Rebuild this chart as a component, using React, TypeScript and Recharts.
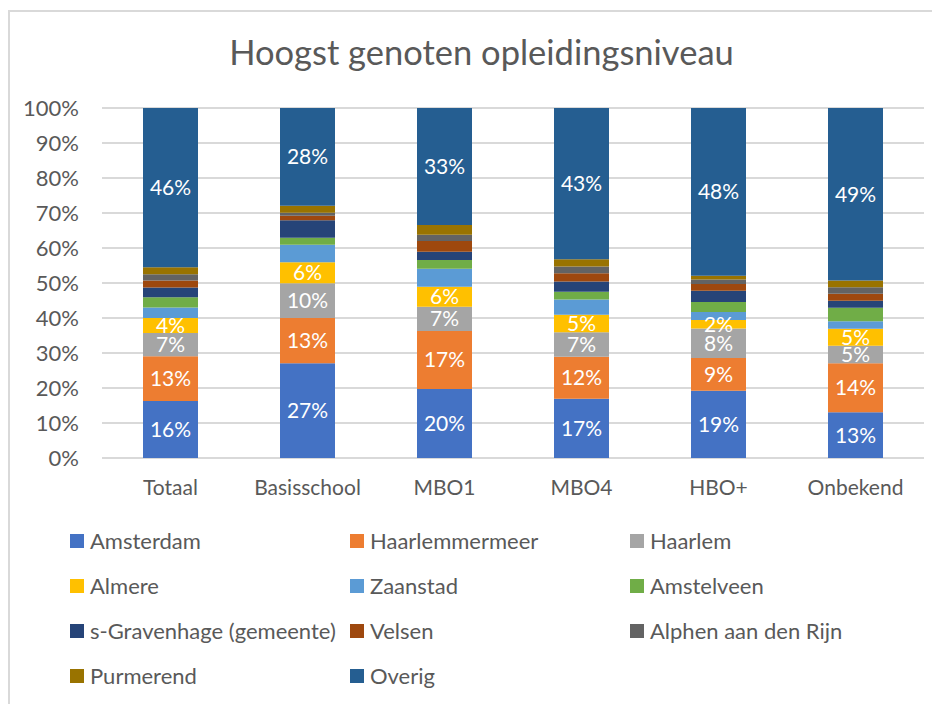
import { BarChart, Bar, XAxis, YAxis, CartesianGrid, LabelList, Legend } from 'recharts'

const categories = ['Totaal', 'Basisschool', 'MBO1', 'MBO4', 'HBO+', 'Onbekend']

const amsterdam = [16.3, 27.1, 19.7, 16.9, 19.2, 13.1]
const haarlemmermeer = [12.8, 12.9, 16.6, 12.0, 9.4, 14.0]
const haarlem = [6.6, 9.9, 6.9, 7.0, 8.4, 5.0]
const almere = [4.3, 6.0, 5.7, 5.0, 2.4, 4.8]
const zaanstad = [3.0, 5.0, 5.2, 4.4, 2.3, 2.2]
const amstelveen = [2.9, 2.0, 2.5, 2.2, 2.9, 3.8]
const sGravenhage = [2.8, 5.0, 2.3, 2.9, 3.2, 2.0]
const velsen = [2.0, 1.3, 3.1, 2.4, 1.9, 2.0]
const alphen = [1.8, 0.9, 1.8, 1.9, 1.3, 1.9]
const purmerend = [2.0, 2.0, 2.8, 2.1, 1.1, 1.9]
const overig = [45.5, 27.9, 33.4, 43.2, 47.9, 49.3]

const yTicks = [0, 10, 20, 30, 40, 50, 60, 70, 80, 90, 100]

const series = [
  { name: 'Amsterdam', values: amsterdam, color: '#4472C4', labels: true },
  { name: 'Haarlemmermeer', values: haarlemmermeer, color: '#ED7D31', labels: true },
  { name: 'Haarlem', values: haarlem, color: '#A5A5A5', labels: true },
  { name: 'Almere', values: almere, color: '#FFC000', labels: true },
  { name: 'Zaanstad', values: zaanstad, color: '#5B9BD5', labels: false },
  { name: 'Amstelveen', values: amstelveen, color: '#70AD47', labels: false },
  { name: 's-Gravenhage (gemeente)', values: sGravenhage, color: '#264478', labels: false },
  { name: 'Velsen', values: velsen, color: '#9E480E', labels: false },
  { name: 'Alphen aan den Rijn', values: alphen, color: '#636363', labels: false },
  { name: 'Purmerend', values: purmerend, color: '#997300', labels: false },
  { name: 'Overig', values: overig, color: '#255E91', labels: true },
]

const data = categories.map((category, i) => {
  const row: Record<string, string | number> = { category }
  series.forEach((s) => {
    row[s.name] = s.values[i]
  })
  return row
})

const TEXT = '#595959'
const FONT = 'Lato, "Open Sans", sans-serif'

function LegendGrid() {
  return (
    <div
      style={{
        display: 'grid',
        gridTemplateColumns: '280px 280px 280px',
        gridAutoRows: '45px',
        paddingLeft: 60,
        fontFamily: FONT,
        fontSize: 22,
        color: TEXT,
      }}
    >
      {series.map((s) => (
        <div key={s.name} style={{ display: 'flex', alignItems: 'center', whiteSpace: 'nowrap' }}>
          <span style={{ width: 14, height: 14, background: s.color, marginRight: 6, flex: 'none' }} />
          {s.name}
        </div>
      ))}
    </div>
  )
}

export default function App() {
  return (
    <div style={{ position: 'relative', width: 932, height: 696, fontFamily: FONT }}>
      <div
        style={{
          position: 'absolute',
          left: 0,
          top: 2,
          width: 932,
          height: 694,
          borderLeft: '2px solid #d9d9d9',
          borderTop: '2px solid #d9d9d9',
          boxSizing: 'border-box',
        }}
      />
      <div
        style={{
          position: 'absolute',
          left: 0,
          top: 23,
          width: 947,
          textAlign: 'center',
          fontSize: 34.5,
          lineHeight: 1.2,
          color: TEXT,
          whiteSpace: 'nowrap',
        }}
      >
        Hoogst genoten opleidingsniveau
      </div>
      <div style={{ position: 'absolute', left: 2, top: 4 }}>
        <BarChart
          width={930}
          height={692}
          data={data}
          margin={{ top: 96, right: 16, bottom: 216, left: 0 }}
          barSize={55}
        >
          <CartesianGrid vertical={false} stroke="#d9d9d9" strokeWidth={2} />
          <XAxis
            dataKey="category"
            height={30}
            axisLine={false}
            tickLine={false}
            tickSize={0}
            tickMargin={22}
            tick={{ fontSize: 21, fill: TEXT, fontFamily: FONT }}
          />
          <YAxis
            domain={[0, 100]}
            ticks={yTicks}
            width={92}
            axisLine={false}
            tickLine={false}
            tickSize={0}
            tickMargin={23}
            tickFormatter={(v: number) => `${v}%`}
            tick={{ fontSize: 22, fill: TEXT, fontFamily: FONT }}
          />
          {series.map((s) => (
            <Bar key={s.name} dataKey={s.name} stackId="a" fill={s.color} isAnimationActive={false}>
              {s.labels && (
                <LabelList
                  dataKey={s.name}
                  position="center"
                  fill="#ffffff"
                  fontSize={21}
                  fontFamily={FONT}
                  formatter={(v: number) => `${Math.round(v)}%`}
                />
              )}
            </Bar>
          ))}
          <Legend
            layout="horizontal"
            verticalAlign="middle"
            align="center"
            wrapperStyle={{ position: 'absolute', top: 506, left: 0, width: 930 }}
            content={() => <LegendGrid />}
          />
        </BarChart>
      </div>
    </div>
  )
}
